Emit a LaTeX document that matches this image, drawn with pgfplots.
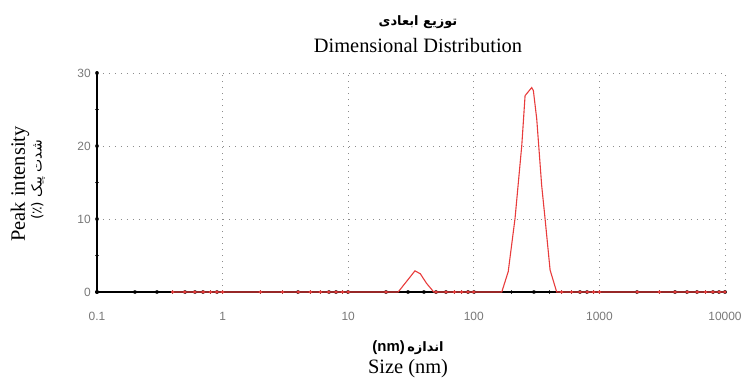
\documentclass[border=0pt]{standalone}
\usepackage{pgfplots}
\pgfplotsset{compat=1.18}
\usepackage{pgfplotstable}
\usepackage{fontspec}
\setmainfont{Liberation Serif}
\newfontfamily\ticksans{Liberation Sans}
\newfontfamily\arabicfont[Script=Arabic]{DejaVu Sans}
\TeXXeTstate=1

\definecolor{curvered}{RGB}{232,60,60}
\definecolor{ticktext}{RGB}{120,120,120}
\definecolor{gridgray}{RGB}{140,140,140}

% size distribution (size in nm, intensity in %)
\pgfplotstableread{
x      y
0.4    0
25     0
29     1.4
34     2.9
37.5   2.5
42     1.2
48     0
167    0
188    2.8
213    10.1
241    20.1
256    26.9
289    28.0
298    27.6
317    23.7
347    14.6
369    10.1
405    3.0
457    0
10000  0
}\curve

% sampled bins lying on the baseline
\pgfplotstableread{
x     y
0.4   0
0.5   0
0.6   0
0.7   0
0.8   0
0.9   0
1     0
2     0
3     0
4     0
5     0
6     0
7     0
8     0
9     0
10    0
20    0
50    0
60    0
70    0
80    0
90    0
100   0
500   0
600   0
700   0
800   0
900   0
1000  0
2000  0
3000  0
4000  0
5000  0
6000  0
7000  0
8000  0
9000  0
10000 0
}\baseline

\begin{document}
\begin{tikzpicture}[x=1bp,y=1bp]
\path[use as bounding box] (-97,-87) rectangle (646,292);
\begin{axis}[
  at={(0,0)}, anchor=south west,
  scale only axis, width=628bp, height=219bp,
  xmode=log, xmin=0.1, xmax=10000, ymin=0, ymax=30,
  axis lines*=left,
  axis line style={black, line width=1.1bp},
  xtick={0.1,1,10,100,1000,10000},
  xticklabels={0.1,1,10,100,1000,10000},
  minor xtick={0.2,0.3,0.4,0.5,0.6,0.7,0.8,0.9,2,3,4,5,6,7,8,9,20,30,40,50,60,70,80,90,200,300,400,500,600,700,800,900,2000,3000,4000,5000,6000,7000,8000,9000},
  ytick={0,10,20,30},
  yticklabels={0,10,20,30},
  minor ytick={5,15,25},
  tick align=center,
  major tick length=0.01bp, minor tick length=0.01bp,
  every tick/.style={black, line width=3.6bp, line cap=round},
  grid=major,
  major grid style={gridgray, line width=0.9bp, dash pattern=on 0.9bp off 5.1bp},
  xticklabel style={font=\ticksans\fontsize{12}{12}\selectfont, text=ticktext, inner sep=0pt, anchor=north, yshift=-20bp},
  yticklabel style={font=\ticksans\fontsize{12}{12}\selectfont, text=ticktext, inner sep=0pt, anchor=east, xshift=-6bp},
  clip=false,
]
\addplot[curvered, line width=1.1bp, no markers] table[x=x, y=y] {\curve};
\addplot[only marks, mark=*, mark size=1.4bp, curvered, mark options={draw=curvered, fill=curvered}] table[x=x, y=y] {\baseline};
\end{axis}

% titles and axis labels
\node[inner sep=0pt] at (321,270) {\arabicfont\bfseries\fontsize{13}{13}\selectfont\beginR توزیع ابعادی\endR};
\node[inner sep=0pt] at (321,246) {\fontsize{20.5}{20.5}\selectfont Dimensional Distribution};
\node[inner sep=0pt, rotate=90] at (-77,108) {\fontsize{20.5}{20.5}\selectfont Peak intensity};
\node[inner sep=0pt, rotate=90] at (-59,112) {\arabicfont\fontsize{14}{14}\selectfont\beginR شدت پیک (٪)\endR};
\node[inner sep=0pt] at (311,-56) {{\ticksans\bfseries\fontsize{15}{15}\selectfont (nm)} {\arabicfont\bfseries\fontsize{13}{13}\selectfont\beginR اندازه\endR}};
\node[inner sep=0pt] at (311,-77) {\fontsize{20.5}{20.5}\selectfont Size (nm)};
\end{tikzpicture}
\end{document}
